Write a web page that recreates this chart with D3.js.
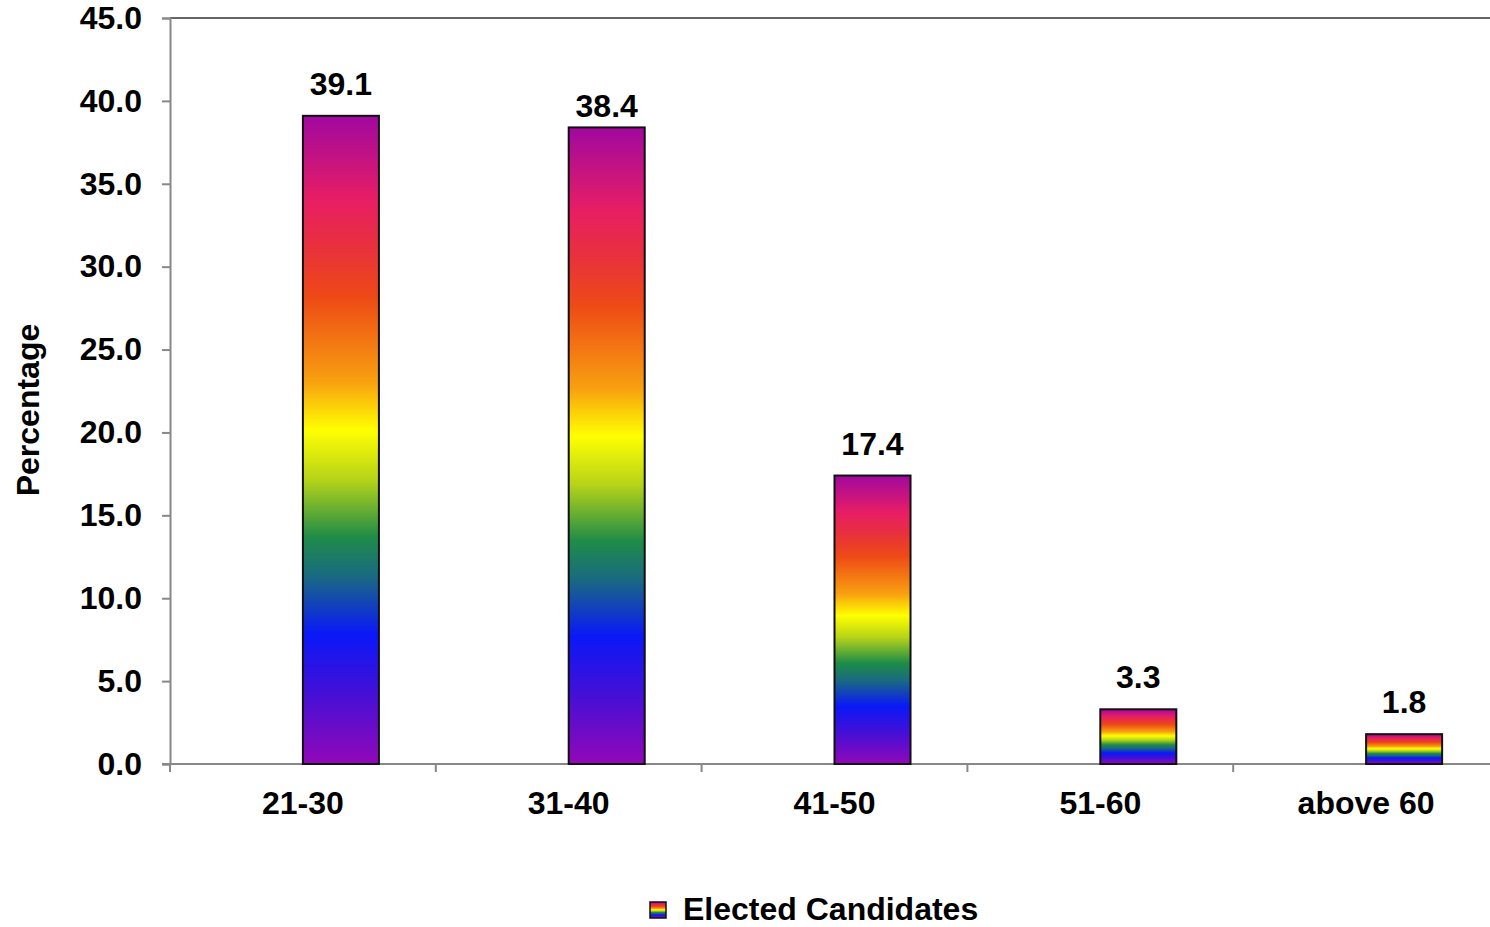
<!DOCTYPE html>
<html>
<head>
<meta charset="utf-8">
<script src="https://cdn.jsdelivr.net/npm/d3@7"></script>
<style>
  body { margin: 0; background: #fff; }
  svg { display: block; font-family: "Liberation Sans", Arial, sans-serif; }
</style>
</head>
<body>
<svg id="chart" width="1490" height="927"></svg>
<script>
const categories = ["21-30", "31-40", "41-50", "51-60", "above 60"];
const values = [39.1, 38.4, 17.4, 3.3, 1.8];
const seriesName = "Elected Candidates";
const yTicks = [0, 5, 10, 15, 20, 25, 30, 35, 40, 45];
const gradientStops = [
  [0, "#a0089f"], [0.13, "#e81e64"], [0.2, "#e8303e"], [0.28, "#ee4a16"],
  [0.41, "#f8a010"], [0.485, "#ffff00"], [0.56, "#b8d418"], [0.65, "#1e8c48"],
  [0.71, "#1a6a80"], [0.8, "#0a18f8"], [0.885, "#4010d8"], [1, "#9208b8"]
];
// label gap above each bar (layout only)
const labelGaps = [21, 10, 21, 21, 21];

(function () {
const svg = d3.select("#chart");
const mLeft = 170, mRight = 1499, mTop = 18, mBottom = 764;
const FS = 32;

const x = d3.scaleBand().domain(categories).range([mLeft, mRight]).padding(0);
const y = d3.scaleLinear().domain([0, 45]).range([mBottom, mTop]);

const defs = svg.append("defs");
const grad = defs.append("linearGradient").attr("id", "rainbow")
  .attr("x1", 0).attr("y1", 0).attr("x2", 0).attr("y2", 1);
grad.selectAll("stop").data(gradientStops).join("stop")
  .attr("offset", d => d[0]).attr("stop-color", d => d[1]);

// top border
svg.append("line").attr("x1", mLeft).attr("x2", mRight).attr("y1", mTop).attr("y2", mTop)
  .attr("stroke", "#333").attr("stroke-width", 1.5);

// y axis
const yAxis = svg.append("g").attr("transform", `translate(${mLeft},0)`)
  .call(d3.axisLeft(y).tickValues(yTicks).tickFormat(d3.format(".1f")).tickSize(8).tickPadding(20));
yAxis.select(".domain").attr("stroke", "#888").attr("stroke-width", 2);
yAxis.selectAll(".tick line").attr("stroke", "#888").attr("stroke-width", 2);
yAxis.selectAll(".tick text").attr("font-size", FS).attr("font-weight", "bold")
  .attr("fill", "#000").attr("font-family", "Liberation Sans, Arial, sans-serif");

// x axis
const xAxis = svg.append("g").attr("transform", `translate(0,${mBottom})`)
  .call(d3.axisBottom(x).tickSize(0).tickPadding(27));
xAxis.select(".domain").remove();
xAxis.selectAll(".tick text").attr("font-size", FS).attr("font-weight", "bold")
  .attr("fill", "#000").attr("font-family", "Liberation Sans, Arial, sans-serif");
svg.append("line").attr("x1", mLeft - 8).attr("x2", mRight).attr("y1", mBottom).attr("y2", mBottom)
  .attr("stroke", "#888").attr("stroke-width", 2);
const bounds = categories.map(c => x(c)).concat([mRight]);
svg.selectAll(".xtick").data(bounds).join("line").attr("class", "xtick")
  .attr("x1", d => d).attr("x2", d => d).attr("y1", mBottom).attr("y2", mBottom + 8)
  .attr("stroke", "#888").attr("stroke-width", 2);

// bars
const barW = x.bandwidth() * 0.286;
const bars = categories.map((c, i) => ({ c, v: values[i], gap: labelGaps[i] }));
svg.selectAll(".bar").data(bars).join("rect").attr("class", "bar")
  .attr("x", d => x(d.c) + x.bandwidth() / 2)
  .attr("y", d => y(d.v))
  .attr("width", barW)
  .attr("height", d => y(0) - y(d.v))
  .attr("fill", "url(#rainbow)")
  .attr("stroke", "#111").attr("stroke-width", 2);

svg.selectAll(".vlabel").data(bars).join("text").attr("class", "vlabel")
  .attr("x", d => x(d.c) + x.bandwidth() / 2 + barW / 2)
  .attr("y", d => y(d.v) - d.gap)
  .attr("text-anchor", "middle").attr("font-size", FS).attr("font-weight", "bold")
  .text(d => d.v.toFixed(1));

// y title
svg.append("text").attr("transform", "translate(39,410) rotate(-90)")
  .attr("text-anchor", "middle").attr("font-size", FS).attr("font-weight", "bold")
  .text("Percentage");

// legend
svg.append("rect").attr("x", 650).attr("y", 902).attr("width", 16).attr("height", 16)
  .attr("fill", "url(#rainbow)").attr("stroke", "#111").attr("stroke-width", 1.5);
svg.append("text").attr("x", 683).attr("y", 920).attr("font-size", FS).attr("font-weight", "bold")
  .text(seriesName);
})();
</script>
</body>
</html>
